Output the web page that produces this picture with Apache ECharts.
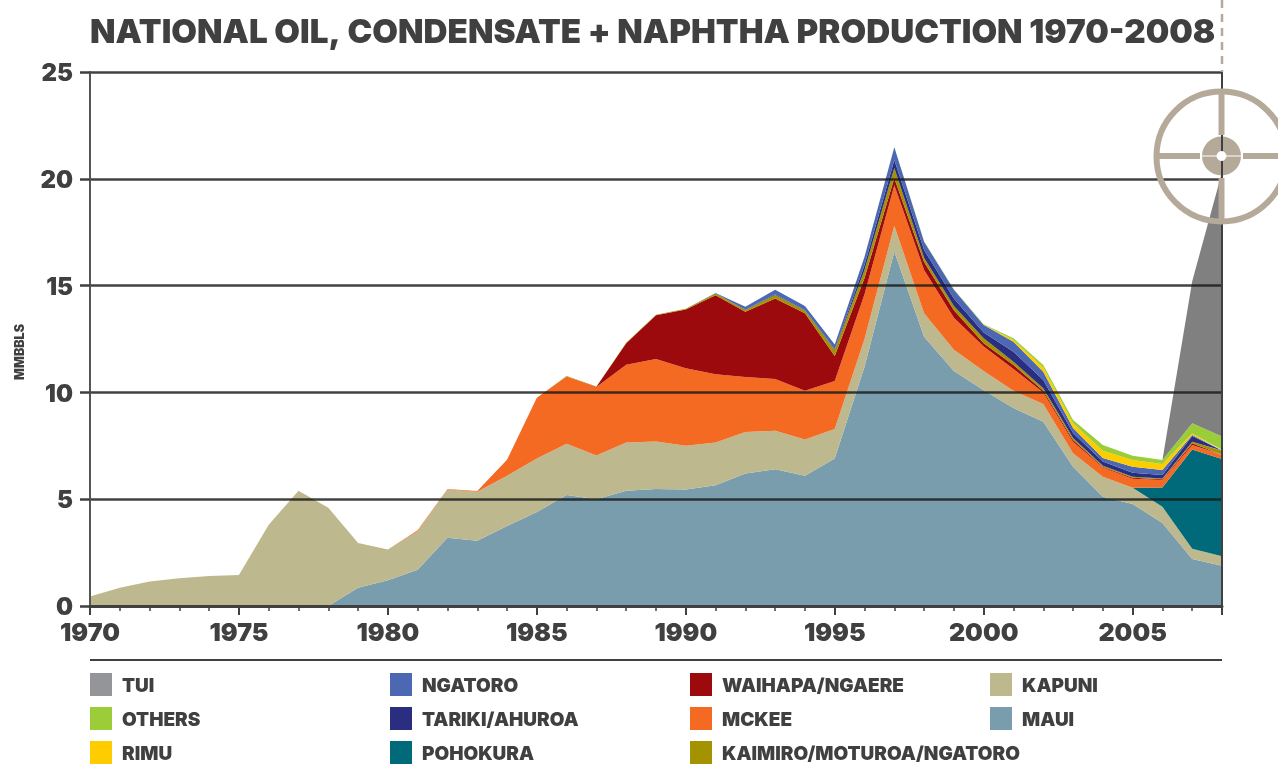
<!DOCTYPE html>
<html><head><meta charset="utf-8">
<style>html,body{margin:0;padding:0;background:#fff}#c{width:1278px;height:769px}</style>
<script src="https://cdn.jsdelivr.net/npm/echarts@6/dist/echarts.min.js"></script>
</head><body><div id="c"></div>
<script>
const years = ['1970','1971','1972','1973','1974','1975','1976','1977','1978','1979','1980','1981','1982','1983','1984','1985','1986','1987','1988','1989','1990','1991','1992','1993','1994','1995','1996','1997','1998','1999','2000','2001','2002','2003','2004','2005','2006','2007','2008'];
const maui = [0,0,0,0,0,0,0,0,0, .85,1.2,1.7,3.2,3.05,3.75,4.4,5.2,5.0,5.4,5.48,5.45,5.65,6.2,6.4,6.1,6.9,11.2,16.6,12.6,11.0,10.1,9.27,8.63,6.52,5.12,4.78,3.88,2.2,1.89];
const kapuni = [.45,.85,1.15,1.3,1.4,1.45,3.8,5.4,4.6, 2.1,1.45,1.8,2.25,2.3,2.35,2.5,2.4,2.05,2.25,2.22,2.05,2.0,1.95,1.8,1.7,1.39,1.3,1.2,1.1,1.0,.9,.81,.83,.63,.93,.76,.77,.48,.44];
const pohokura = [0,0,0,0,0,0,0,0,0,0, 0,0,0,0,0,0,0,0,0,0, 0,0,0,0,0,0,0,0,0,0, 0,0,0,0,0,0, .9,4.65,4.55];
const mckee = [0,0,0,0,0,0,0,0,0,0,0, .05,.03,.03,.75,2.85,3.15,3.2,3.65,3.86,3.63,3.2,2.57,2.43,2.28,2.24,2.1,1.9,2.03,1.5,1.15,1.02,.54,.54,.43,.42,.35,.21,.19];
const waihapa = [0,0,0,0,0,0,0,0,0,0, 0,0,0,0,0,0,0, .01,1.0,2.05,2.75,3.7,3.06,3.77,3.62,1.17,.75,.33,.37,.35,.15,.18,.08,.08,.04,.04,.03,.08,.01];
const kaimiro = [0,0,0,0,0,0,0,0,0,0, 0,0,0,0,0,0, .02,.02,.03,.03,.04,.08,.08,.16,.13,.28,.38,.47,.2,.2,.23,.16,.12,.09,.05,.05,.04,.07,.19];
const tariki = [0,0,0,0,0,0,0,0,0,0, 0,0,0,0,0,0,0,0,0,0, 0,0, .01,.04,.02,.04,.23,.38,.37,.35,.27,.46,.38,.24,.19,.19,.16,.27,.01];
const ngatoro = [0,0,0,0,0,0,0,0,0,0, 0,0,0,0,0,0,0,0,0,0, 0, .02,.14,.2,.2,.22,.39,.6,.38,.4,.35,.47,.39,.23,.17,.28,.24,.04,.01];
const rimu = [0,0,0,0,0,0,0,0,0,0, 0,0,0,0,0,0,0,0,0,0, 0,0,0,0,0,0,0,0,0, .01,.02,.08,.19,.22,.34,.32,.28,.08,.02];
const others = [0,0,0,0,0,0,0,0,0,0, 0,0,0,0,0,0,0,0,0,0, 0,0,0,0,0,0,0,0, .03,.02,.02,.08,.12,.16,.27,.2,.19,.47,.63];
const tui = [0,0,0,0,0,0,0,0,0,0, 0,0,0,0,0,0,0,0,0,0, 0,0,0,0,0,0,0,0,0,0, 0,0,0,0,0,0,0, 6.65,12.37];
const titleText = 'NATIONAL OIL, CONDENSATE + NAPHTHA PRODUCTION 1970-2008';
const yLabel = 'MMBBLS';

const INK = '#404040', TAN = '#B5A999';
const FONT = 'Inter, "Liberation Sans", sans-serif';
const stackDefs = [
  ['MAUI', maui, '#7A9DAE'], ['KAPUNI', kapuni, '#BDB88E'], ['POHOKURA', pohokura, '#006A7B'],
  ['MCKEE', mckee, '#F46A23'], ['WAIHAPA/NGAERE', waihapa, '#9C0A0E'],
  ['KAIMIRO/MOTUROA/NGATORO', kaimiro, '#A39300'], ['TARIKI/AHUROA', tariki, '#2B2D80'],
  ['NGATORO', ngatoro, '#4C68B2'], ['RIMU', rimu, '#FFCC00'], ['OTHERS', others, '#9ACD38'], ['TUI', tui, '#808080']
];
const swatch = {TUI:'#939598'};
const colOf = n => swatch[n] || stackDefs.find(d => d[0] === n)[2];
const legendCols = [
  [90, ['TUI','OTHERS','RIMU']], [390, ['NGATORO','TARIKI/AHUROA','POHOKURA']],
  [690, ['WAIHAPA/NGAERE','MCKEE','KAIMIRO/MOTUROA/NGATORO']], [990, ['KAPUNI','MAUI']]
];
const isMajor = i => i % 5 === 0 || i === years.length - 1;
const axisCommon = {type:'category', data:years, boundaryGap:false, position:'bottom'};
const option = {
  animation:false,
  backgroundColor:'#fff',
  title:{text:titleText, left:90, top:17, padding:0, textStyle:{fontFamily:FONT, fontSize:33.2, fontWeight:900, color:INK}},
  grid:{left:90, right:56, top:72, bottom:163},
  legend: legendCols.map(([x, names]) => ({
    orient:'vertical', left:x, top:673, itemWidth:22, itemHeight:23, itemGap:11, icon:'rect', selectedMode:false, padding:0,
    data:names.map(n => ({name:n, icon:'rect', itemStyle:{color:colOf(n), borderWidth:0}})),
    formatter:n => '{a|' + n + '}',
    textStyle:{fontFamily:FONT, fontSize:19, fontWeight:900, color:INK, padding:[0,0,0,5],
      rich:{a:{fontFamily:FONT, fontSize:19, fontWeight:900, color:INK, padding:[4,0,0,0]}}}
  })),
  xAxis:[
    Object.assign({}, axisCommon, {
      z:10,
      axisLine:{onZero:false, lineStyle:{color:INK, width:3}},
      axisTick:{interval:0, length:5, lineStyle:{color:INK, width:1.5}},
      axisLabel:{interval:(i) => i % 5 === 0, margin:15, fontFamily:FONT, fontSize:25, fontWeight:900, color:INK}
    }),
    Object.assign({}, axisCommon, {
      z:10,
      axisLine:{show:false},
      axisTick:{interval:(i) => isMajor(i), length:9, lineStyle:{color:INK, width:2}},
      axisLabel:{show:false}
    })
  ],
  yAxis:{
    type:'value', min:0, max:25, interval:5, z:10,
    name:yLabel, nameLocation:'middle', nameGap:63,
    nameTextStyle:{fontFamily:FONT, fontSize:12.5, fontWeight:900, color:INK, padding:[0,26,0,0]},
    axisLine:{show:true, lineStyle:{color:'#555', width:2}},
    axisTick:{show:true, length:10, lineStyle:{color:INK, width:2.5}},
    axisLabel:{margin:17, fontFamily:FONT, fontSize:24, fontWeight:900, color:INK, verticalAlign:'top', lineHeight:4},
    splitLine:{show:true, lineStyle:{color:'rgba(25,25,25,.82)', width:2.5}}
  },
  series: stackDefs.map(([name, data, color]) => ({
    name, data, type:'line', stack:'total', xAxisIndex:0, showSymbol:false, symbol:'none', silent:true,
    lineStyle:{width:0, color}, itemStyle:{color}, areaStyle:{color, opacity:1}
  })),
  graphic:{elements:[
    {type:'line', z:100, shape:{x1:1222,y1:0,x2:1222,y2:72}, style:{stroke:TAN, lineWidth:2.5, lineDash:[8,6]}},
    {type:'line', z:100, shape:{x1:90,y1:660,x2:1222,y2:660}, style:{stroke:INK, lineWidth:2}},
    {type:'circle', z:100, shape:{cx:1221.5,cy:156,r:19.5}, style:{fill:TAN}},
    {type:'line', z:100, shape:{x1:1201,y1:156,x2:1242,y2:156}, style:{stroke:'#fff', lineWidth:1}},
    {type:'line', z:100, shape:{x1:1222,y1:72,x2:1222,y2:606}, style:{stroke:INK, lineWidth:2}},
    {type:'circle', z:100, shape:{cx:1221.5,cy:156,r:4.5}, style:{fill:'#fff', stroke:'#fff', lineWidth:1}},
    {type:'circle', z:100, shape:{cx:1221.5,cy:156.5,r:65}, style:{fill:null, stroke:TAN, lineWidth:6}},
    {type:'rect', z:100, shape:{x:1218.5,y:92,width:6,height:43}, style:{fill:TAN}},
    {type:'rect', z:100, shape:{x:1218.5,y:178,width:6,height:43}, style:{fill:TAN}},
    {type:'rect', z:100, shape:{x:1159,y:153,width:41,height:6}, style:{fill:TAN}},
    {type:'rect', z:100, shape:{x:1243,y:153,width:35,height:6}, style:{fill:TAN}}
  ]}
};
echarts.init(document.getElementById('c'), null, {renderer:'canvas'}).setOption(option);
</script></body></html>
